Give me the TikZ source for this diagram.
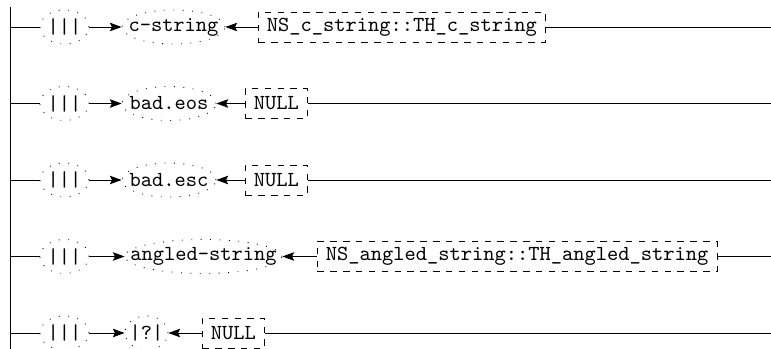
\documentclass[tikz,border=0pt]{standalone}
\usetikzlibrary{shapes.geometric,arrows.meta}
\newcommand\pxu{0.4667pt}
\begin{document}
\begin{tikzpicture}[x=0.4667pt,y=-0.4667pt,
  every node/.style={font=\ttfamily},
  dotell/.style={ellipse, draw, loosely dotted, inner sep=0pt, minimum height=34*\pxu, minimum width=#1*\pxu},
  dbox/.style={draw, dashed, rectangle, inner xsep=4pt, inner ysep=0pt, minimum height=30*\pxu},
  arr/.style={-{Stealth[length=5.5pt,width=4pt,inset=1pt]}}
]
\useasboundingbox (0,0) rectangle (771,349);
\coordinate (vt) at (10,7);
\coordinate (vb) at (10,349);
\draw (vt) -- (vb);

% row 1
\node[dotell=49] (p1) at (64.5,27) {\makebox[0pt]{|||}};
\node[dotell=103] (l1) at (173.5,27) {\makebox[0pt]{c-string}};
\node[dbox, anchor=west] (b1) at (258,27) {NS\_c\_string::TH\_c\_string};
\coordinate (v1) at (10,27);
\coordinate (r1) at (771,27);
\draw (v1) -- (p1);
\draw[arr] (p1) -- (l1);
\draw[arr] (b1) -- (l1);
\draw (b1) -- (r1);

% row 2
\node[dotell=49] (p2) at (64.5,103.5) {\makebox[0pt]{|||}};
\node[dotell=94] (l2) at (169,103.5) {\makebox[0pt]{bad.eos}};
\node[dbox, anchor=west] (b2) at (245,103.5) {NULL};
\coordinate (v2) at (10,103.5);
\coordinate (r2) at (771,103.5);
\draw (v2) -- (p2);
\draw[arr] (p2) -- (l2);
\draw[arr] (b2) -- (l2);
\draw (b2) -- (r2);

% row 3
\node[dotell=49] (p3) at (64.5,180) {\makebox[0pt]{|||}};
\node[dotell=94] (l3) at (169,180) {\makebox[0pt]{bad.esc}};
\node[dbox, anchor=west] (b3) at (245,180) {NULL};
\coordinate (v3) at (10,180);
\coordinate (r3) at (771,180);
\draw (v3) -- (p3);
\draw[arr] (p3) -- (l3);
\draw[arr] (b3) -- (l3);
\draw (b3) -- (r3);

% row 4
\node[dotell=49] (p4) at (64.5,256.5) {\makebox[0pt]{|||}};
\node[dotell=157] (l4) at (203.5,256.5) {\makebox[0pt]{angled-string}};
\node[dbox, anchor=west] (b4) at (317,256.5) {NS\_angled\_string::TH\_angled\_string};
\coordinate (v4) at (10,256.5);
\coordinate (r4) at (771,256.5);
\draw (v4) -- (p4);
\draw[arr] (p4) -- (l4);
\draw[arr] (b4) -- (l4);
\draw (b4) -- (r4);

% row 5
\node[dotell=49] (p5) at (64.5,333) {\makebox[0pt]{|||}};
\node[dotell=43] (l5) at (146.5,333) {\makebox[0pt]{|?|}};
\node[dbox, anchor=west] (b5) at (202,333) {NULL};
\coordinate (v5) at (10,333);
\coordinate (r5) at (771,333);
\draw (v5) -- (p5);
\draw[arr] (p5) -- (l5);
\draw[arr] (b5) -- (l5);
\draw (b5) -- (r5);
\end{tikzpicture}
\end{document}
